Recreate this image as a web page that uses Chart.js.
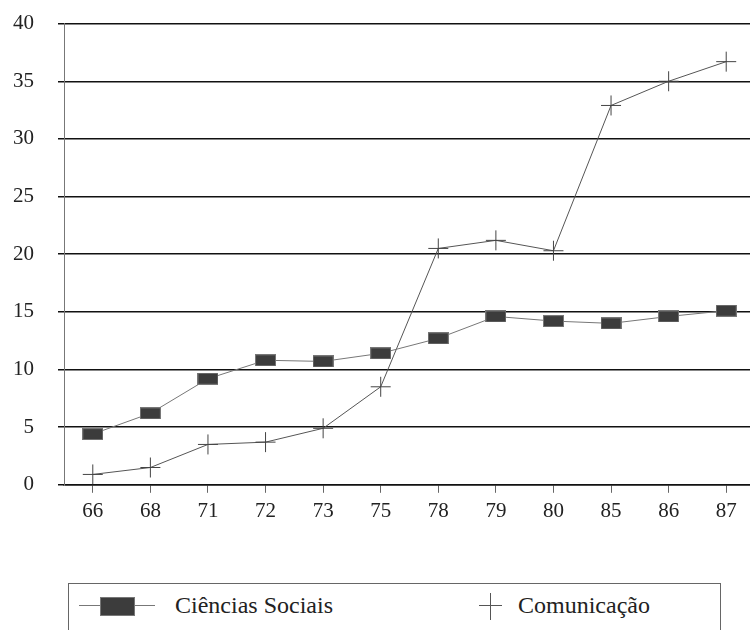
<!DOCTYPE html>
<html>
<head>
<meta charset="utf-8">
<script src="https://cdn.jsdelivr.net/npm/chart.js@4.4.1/dist/chart.umd.min.js"></script>
<style>
  html, body { margin: 0; padding: 0; background: #fff; overflow: hidden; }
  #wrap { position: relative; width: 750px; height: 630px; overflow: hidden; }
  #chart { position: absolute; left: 0; top: -13px; }
  #legend {
    position: absolute; left: 68px; top: 583px; width: 651px; height: 60px;
    border: 1px solid #666; font-family: 'Liberation Serif', 'Times New Roman', serif; font-size: 24px; color: #222;
  }
  .item { position: absolute; top: 7px; height: 28px; line-height: 28px; }
  .mk { position: absolute; }
</style>
</head>
<body>
<div id="wrap">
  <canvas id="chart" width="766" height="543"></canvas>
  <div id="legend">
    <div class="mk" style="left:10px;top:21px;width:76px;height:1px;background:#777"></div>
    <div class="mk" style="left:31px;top:13px;width:33px;height:17px;background:#3c3c3c;border:1px solid #777"></div>
    <div class="item" style="left:106px">Ciências Sociais</div>
    <div class="mk" style="left:410px;top:21px;width:23px;height:1px;background:#555"></div>
    <div class="mk" style="left:421px;top:9px;width:1px;height:27px;background:#555"></div>
    <div class="item" style="left:449px">Comunicação</div>
  </div>
</div>
<script>
const anos = ["66", "68", "71", "72", "73", "75", "78", "79", "80", "85", "86", "87"];
const cienciasSociais = [4.4, 6.2, 9.2, 10.8, 10.7, 11.4, 12.7, 14.6, 14.2, 14.0, 14.6, 15.1];
const comunicacao = [0.9, 1.5, 3.5, 3.7, 4.9, 8.5, 20.5, 21.2, 20.3, 32.9, 35.0, 36.7];
const yTicks = [0, 5, 10, 15, 20, 25, 30, 35, 40];

// dark rectangle used as point marker for Ciencias Sociais
const rectMarker = document.createElement("canvas");
rectMarker.width = 21;
rectMarker.height = 12;
const rc = rectMarker.getContext("2d");
rc.fillStyle = "#777";
rc.fillRect(0, 0, 21, 12);
rc.fillStyle = "#3c3c3c";
rc.fillRect(1, 1, 19, 10);

const serif = "'Liberation Serif', 'Times New Roman', serif";

new Chart("chart", {
  type: "line",
  data: {
    labels: anos,
    datasets: [
      {
        label: "Ciências Sociais",
        data: cienciasSociais,
        borderColor: "#777",
        borderWidth: 1,
        pointStyle: rectMarker,
        pointRadius: 8,
        tension: 0
      },
      {
        label: "Comunicação",
        data: comunicacao,
        borderColor: "#555",
        borderWidth: 1,
        pointStyle: "cross",
        pointRadius: 10,
        pointBorderColor: "#444",
        pointBorderWidth: 1,
        tension: 0
      }
    ]
  },
  options: {
    responsive: false,
    animation: false,
    layout: { padding: { top: 1, right: 0, left: 0, bottom: 0 } },
    plugins: {
      legend: { display: false },
      tooltip: { enabled: false }
    },
    scales: {
      x: {
        offset: true,
        grid: { offset: false, drawOnChartArea: false, drawTicks: true, tickLength: 8, color: "#666" },
        border: { display: true, color: "#111", width: 1.5 },
        ticks: { color: "#222", font: { family: serif, size: 21 }, padding: 6, maxRotation: 0 }
      },
      y: {
        min: 0,
        max: 40,
        afterBuildTicks: function (scale) {
          scale.ticks = yTicks.map(function (v) { return { value: v }; });
        },
        afterFit: function (scale) { scale.width = 64; },
        grid: { color: "#111", lineWidth: 1.5, tickLength: 6 },
        border: { display: true, color: "#777", width: 1 },
        ticks: { color: "#222", font: { family: serif, size: 21 }, padding: 24 }
      }
    }
  }
});
</script>
</body>
</html>
